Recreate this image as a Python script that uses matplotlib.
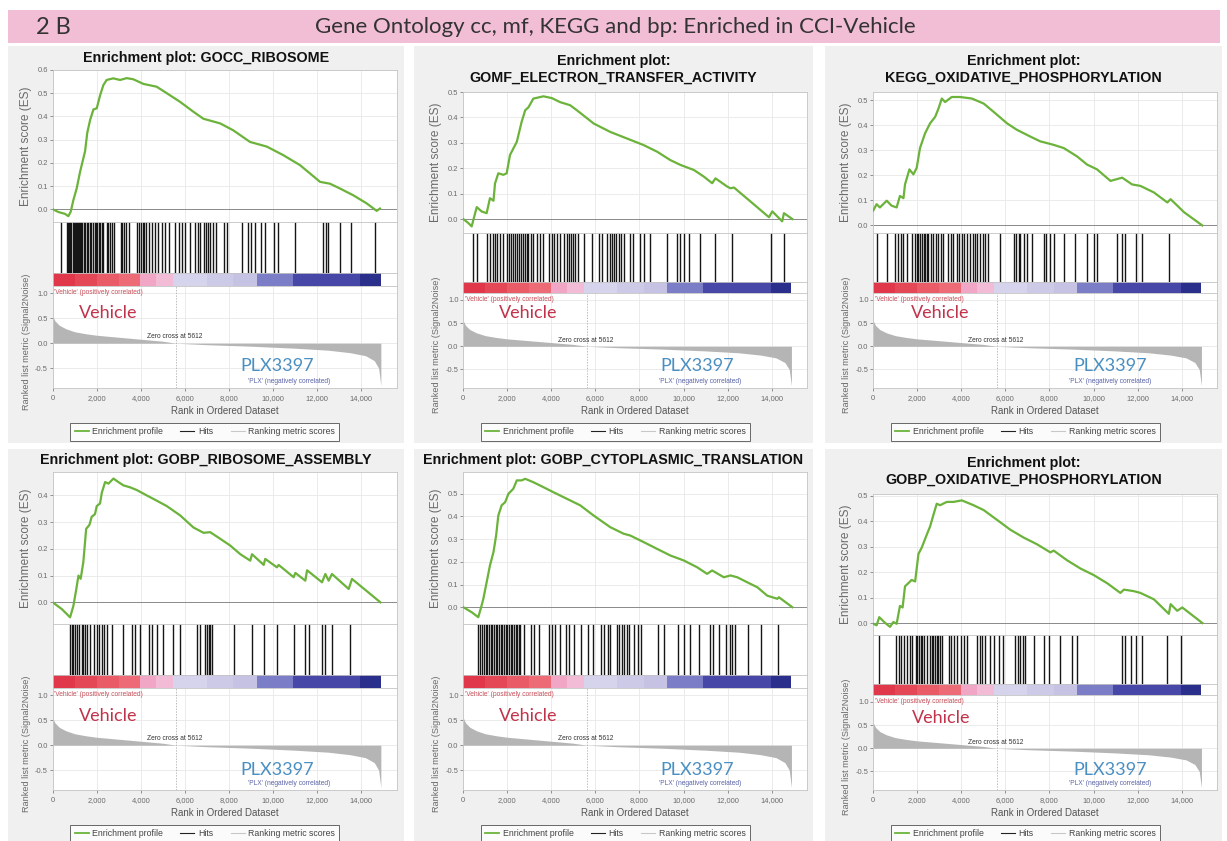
import numpy as np
import matplotlib
matplotlib.use("Agg")
import matplotlib.pyplot as plt
from matplotlib.patches import Rectangle
from matplotlib.lines import Line2D
from matplotlib.ticker import FuncFormatter, FormatStrFormatter

plt.rcParams["font.family"] = ["Liberation Sans", "DejaVu Sans"]

# ---- data ---------------------------------------------------------------
HEADER_TAG = "2 B"
HEADER_TITLE = "Gene Ontology cc, mf, KEGG and bp: Enriched in CCI-Vehicle"

TITLES = [
    "Enrichment plot: GOCC_RIBOSOME",
    "Enrichment plot:\nGOMF_ELECTRON_TRANSFER_ACTIVITY",
    "Enrichment plot:\nKEGG_OXIDATIVE_PHOSPHORYLATION",
    "Enrichment plot: GOBP_RIBOSOME_ASSEMBLY",
    "Enrichment plot: GOBP_CYTOPLASMIC_TRANSLATION",
    "Enrichment plot:\nGOBP_OXIDATIVE_PHOSPHORYLATION",
]

# running enrichment score (rank, ES)
ES_X_1 = [0, 260, 560, 710, 820, 940, 1090, 1240, 1470, 1570, 1700, 1850, 2000,
          2150, 2300, 2450, 2750, 3060, 3360, 3660, 4120, 4720, 5180, 5780,
          6390, 6840, 7600, 8200, 8960, 9720, 10470, 11230, 12140, 12590,
          13050, 13650, 14260, 14710, 14860]
ES_Y_1 = [0.0, -0.012, -0.02, -0.03, -0.01, 0.04, 0.09, 0.16, 0.25, 0.33, 0.385,
          0.43, 0.435, 0.49, 0.535, 0.557, 0.564, 0.557, 0.565, 0.56, 0.54,
          0.528, 0.50, 0.463, 0.42, 0.39, 0.37, 0.34, 0.29, 0.27, 0.233, 0.19,
          0.118, 0.11, 0.089, 0.06, 0.025, -0.007, 0.003]

ES_X_2 = [0, 230, 380, 610, 830, 1060, 1210, 1370, 1440, 1590, 1820, 1970, 2120,
          2430, 2650, 2810, 2960, 3180, 3640, 4020, 4400, 4850, 5160, 5920,
          6670, 7430, 8190, 8800, 9400, 9860, 10470, 10920, 11300, 11450,
          11980, 12130, 12290, 13040, 13880, 14030, 14480, 14560, 14940]
ES_Y_2 = [0.0, -0.016, -0.029, 0.047, 0.03, 0.023, 0.082, 0.072, 0.14, 0.18,
          0.174, 0.18, 0.252, 0.304, 0.383, 0.428, 0.44, 0.474, 0.483, 0.476,
          0.46, 0.448, 0.428, 0.376, 0.343, 0.317, 0.291, 0.265, 0.232, 0.213,
          0.193, 0.167, 0.141, 0.16, 0.128, 0.121, 0.124, 0.069, 0.007, 0.03,
          -0.009, 0.023, 0.0]

ES_X_3 = [0, 150, 300, 610, 830, 1060, 1210, 1370, 1440, 1640, 1820, 1970, 2120,
          2350, 2580, 2810, 2960, 3110, 3260, 3560, 3940, 4470, 5010, 5460,
          6070, 6520, 7130, 7580, 8190, 8650, 9250, 9710, 10160, 10770, 11300,
          11750, 12130, 12740, 13350, 13500, 14110, 14940]
ES_Y_3 = [0.06, 0.085, 0.072, 0.099, 0.079, 0.072, 0.118, 0.109, 0.164, 0.224,
          0.204, 0.23, 0.309, 0.368, 0.408, 0.434, 0.467, 0.507, 0.493, 0.513,
          0.513, 0.507, 0.487, 0.454, 0.408, 0.382, 0.355, 0.336, 0.322, 0.309,
          0.276, 0.243, 0.224, 0.178, 0.191, 0.164, 0.158, 0.132, 0.092, 0.105,
          0.053, 0.0]

ES_X_4 = [0, 410, 790, 940, 1060, 1170, 1270, 1390, 1520, 1670, 1770, 1920, 2000,
          2150, 2230, 2380, 2530, 2760, 2980, 3210, 3520, 3820, 4270, 4730,
          5180, 5790, 6390, 6850, 7150, 7610, 8060, 8520, 8970, 9050, 9580,
          9650, 10180, 10260, 10940, 11020, 11470, 11550, 12230, 12380, 12530,
          12680, 13440, 13590, 14880]
ES_Y_4 = [0.0, -0.025, -0.056, -0.013, 0.044, 0.1, 0.088, 0.15, 0.275, 0.29,
          0.32, 0.33, 0.36, 0.37, 0.41, 0.45, 0.444, 0.463, 0.45, 0.4375, 0.43,
          0.42, 0.4, 0.38, 0.36, 0.325, 0.28, 0.26, 0.2625, 0.2375, 0.2125,
          0.18, 0.156, 0.18, 0.14, 0.1625, 0.131, 0.14, 0.094, 0.11, 0.081,
          0.12, 0.075, 0.106, 0.081, 0.106, 0.05, 0.0875, 0.0]

ES_X_5 = [0, 380, 680, 830, 910, 1060, 1210, 1370, 1490, 1590, 1740, 1900, 2050,
          2270, 2430, 2650, 2810, 3180, 3640, 4090, 4700, 5310, 5920, 6670,
          7280, 7580, 8190, 8800, 9400, 10010, 10620, 11070, 11300, 11830,
          12130, 12440, 12890, 13350, 13800, 14260, 14330, 14940]
ES_Y_5 = [0.0, -0.022, -0.044, 0.007, 0.037, 0.11, 0.184, 0.243, 0.316, 0.404,
          0.449, 0.463, 0.5, 0.522, 0.559, 0.559, 0.566, 0.551, 0.529, 0.507,
          0.478, 0.449, 0.404, 0.353, 0.324, 0.316, 0.287, 0.257, 0.228, 0.206,
          0.176, 0.147, 0.162, 0.132, 0.14, 0.132, 0.11, 0.088, 0.051, 0.037,
          0.044, 0.0]

ES_X_6 = [0, 150, 270, 530, 760, 910, 1060, 1210, 1330, 1440, 1590, 1740, 1900,
          2050, 2200, 2430, 2580, 2730, 2880, 3030, 3340, 3640, 4020, 4550,
          5010, 5610, 6220, 6830, 7430, 8040, 8190, 8800, 9400, 10010, 10620,
          11220, 11380, 11830, 12130, 12740, 13420, 13500, 13800, 14030, 14940]
ES_Y_6 = [-0.003, -0.009, 0.023, 0.001, -0.015, 0.004, -0.003, 0.067, 0.061,
          0.144, 0.156, 0.169, 0.163, 0.271, 0.296, 0.347, 0.379, 0.424, 0.468,
          0.462, 0.475, 0.475, 0.481, 0.462, 0.443, 0.405, 0.366, 0.335, 0.309,
          0.277, 0.284, 0.246, 0.214, 0.188, 0.156, 0.118, 0.131, 0.125, 0.118,
          0.093, 0.036, 0.074, 0.048, 0.061, 0.0]

# gene-set member positions in the ranked list
HITS_1 = [360, 640, 700, 760, 800, 850, 900, 950, 1000, 1050, 1100, 1150, 1200,
          1260, 1300, 1350, 1420, 1480, 1550, 1620, 1700, 1760, 1850, 1900,
          1950, 2000, 2080, 2150, 2230, 2300, 2450, 2520, 2600, 2680, 2800,
          3080, 3150, 3250, 3330, 3450, 3850, 3920, 4000, 4080, 4150, 4250,
          4350, 4520, 4650, 4790, 4950, 5100, 5280, 5550, 5720, 5880, 6000,
          6240, 6460, 6600, 6700, 6850, 6950, 7050, 7150, 7300, 7420, 7760,
          7920, 8600, 8870, 9000, 9190, 9460, 9630, 10050, 10230, 10990, 12270,
          12400, 12520, 13030, 13540, 14640]
HITS_2 = [455, 607, 1060, 1210, 1335, 1440, 1550, 1670, 1790, 1970, 2060, 2150,
          2240, 2330, 2420, 2510, 2600, 2700, 2810, 2880, 2960, 3060, 3180,
          3340, 3490, 3640, 3870, 4020, 4125, 4250, 4400, 4550, 4700, 4780,
          4880, 4970, 5080, 5230, 5460, 5840, 6140, 6290, 6520, 6640, 6750,
          6860, 6950, 7050, 7160, 7280, 7580, 7700, 8040, 8190, 8490, 9250,
          9710, 9860, 10010, 10240, 10770, 11410, 12210, 13950, 14560]
HITS_3 = [180, 610, 990, 1140, 1240, 1370, 1550, 1740, 1900, 1980, 2050, 2120,
          2200, 2280, 2350, 2430, 2500, 2610, 2730, 2850, 2960, 3060, 3180,
          3410, 3520, 3640, 3790, 3910, 4020, 4130, 4250, 4400, 4520, 4630,
          4730, 4850, 4970, 5080, 5230, 5760, 6370, 6490, 6600, 6670, 6830,
          6980, 7200, 7740, 7860, 8040, 8190, 8650, 9180, 9710, 10010, 10160,
          11070, 11300, 11450, 11910, 12210, 13420]
HITS_4 = [790, 860, 940, 1010, 1090, 1210, 1320, 1390, 1470, 1580, 1700, 1880,
          2000, 2120, 2230, 2330, 2450, 2700, 3210, 3590, 3740, 3970, 4350,
          4500, 4730, 5030, 5480, 5790, 6550, 6700, 6920, 7000, 7080, 7150,
          7230, 8210, 9050, 9580, 10180, 10940, 11470, 11620, 12230, 12380,
          12680, 13520]
HITS_5 = [680, 760, 860, 940, 1010, 1090, 1170, 1240, 1320, 1390, 1470, 1540,
          1620, 1700, 1770, 1850, 1920, 2000, 2070, 2150, 2230, 2300, 2380,
          2450, 2530, 2580, 2760, 3060, 3210, 3440, 3900, 4050, 4160, 4400,
          4660, 4810, 5040, 5340, 5640, 5870, 6250, 6400, 6550, 6670, 6980,
          7080, 7190, 7310, 7430, 7540, 7770, 7920, 8070, 8830, 9130, 9740,
          10040, 10310, 10680, 11180, 11330, 11590, 11940, 12090, 12200, 12320,
          12930, 13530, 14290]
HITS_6 = [270, 1020, 1170, 1270, 1390, 1550, 1670, 1770, 1930, 2000, 2080, 2150,
          2230, 2300, 2460, 2580, 2660, 2730, 2810, 2880, 2960, 3030, 3140,
          3440, 3550, 3670, 3820, 3970, 4120, 4270, 4700, 4830, 4950, 5080,
          5310, 5460, 5690, 5890, 6450, 6560, 6670, 6790, 6900, 7280, 7740,
          7960, 8500, 9030, 9250, 11300, 11450, 11680, 11910, 12210, 13350,
          13950]

# ranked list metric (Signal2Noise), shared by all six plots
METRIC_RANK = [0, 100, 300, 600, 1000, 1500, 2000, 3000, 4000, 5000, 5612, 7000,
               9000, 11000, 12500, 13500, 14200, 14600, 14800, 14900]
METRIC_VAL = [0.55, 0.45, 0.36, 0.29, 0.23, 0.19, 0.16, 0.12, 0.08, 0.04, 0.0,
              -0.03, -0.06, -0.10, -0.14, -0.19, -0.25, -0.35, -0.5, -0.85]
ZERO_CROSS = 5612

# phenotype colour bar
BAR_EDGES = [0, 1000, 2000, 3000, 3970, 4700, 5480, 7000, 8200, 9260, 10900,
             13950, 14900]
BAR_COLORS = ["#e0384a", "#e44856", "#e95b67", "#ed6b76", "#f0a6c4", "#f2bcd6",
              "#d6d3ec", "#cdcae8", "#c6c2e4", "#7b7ec6", "#4747a8", "#2b2f8c"]

ES_TOPS = [0.6, 0.5, 0.5, 0.4, 0.5, 0.5]
ES_YLIMS = [(-0.055, 0.6), (-0.055, 0.5), (-0.03, 0.533),
            (-0.081, 0.4875), (-0.074, 0.596), (-0.047, 0.506)]

ES_X = [ES_X_1, ES_X_2, ES_X_3, ES_X_4, ES_X_5, ES_X_6]
ES_Y = [ES_Y_1, ES_Y_2, ES_Y_3, ES_Y_4, ES_Y_5, ES_Y_6]
HITS = [HITS_1, HITS_2, HITS_3, HITS_4, HITS_5, HITS_6]

# ---- layout (pixels) ------------------------------------------------------
W, H = 1227, 841
PANEL_X = [(8, 404), (414, 813), (825, 1222)]
PANEL_Y = [(46, 443), (449, 845)]
ROW_TOP = [48, 450]
AX_LEFT = [52.7, 463.3, 873.3]
AX_W = 344
BANDS_ONE = dict(es=(22, 174), hits=(174, 225), bar=(225, 238), metric=(238, 340))
BANDS_TWO = dict(es=(44, 185), hits=(185, 234), bar=(234, 245), metric=(245, 340))
VEH_POS = [(2530, 0.61), (2930, 0.71), (3030, 0.71), (2530, 0.59), (2940, 0.59), (3060, 0.65)]
PLX_POS = [(10200, -0.45), (10620, -0.43), (10770, -0.43), (10180, -0.49), (10620, -0.49), (10770, -0.47)]
XMAX = 15620

GREEN = "#6bb33a"
FRAME = "#c4c4c4"
GRID = "#e8e8e8"
TICKC = "#6a6a6a"


def fig_rect(x0, y0, x1, y1):
    return [x0 / W, 1 - y1 / H, (x1 - x0) / W, (y1 - y0) / H]


def frame(ax):
    for s in ax.spines.values():
        s.set_color(FRAME)
        s.set_linewidth(0.6)


def draw_panel(fig, i):
    row, col = divmod(i, 3)
    top = ROW_TOP[row]
    left = AX_LEFT[col]
    two_line = "\n" in TITLES[i]
    bands = BANDS_TWO if two_line else BANDS_ONE
    xticks = np.arange(0, 14001, 2000)

    px0, px1 = PANEL_X[col]
    py0, py1 = PANEL_Y[row]
    fig.add_artist(Rectangle((px0 / W, 1 - py1 / H), (px1 - px0) / W, (py1 - py0) / H,
                             transform=fig.transFigure, facecolor="#f0f0f0",
                             edgecolor="none", zorder=0))
    ty = top + (21 if two_line else 10)
    fig.text((px0 + px1) / 2 / W, 1 - ty / H, TITLES[i], ha="center", va="center",
             fontsize=10.3, fontweight="bold", linespacing=1.25, color="#111111")

    # enrichment score
    e0, e1 = bands["es"]
    ax = fig.add_axes(fig_rect(left, top + e0, left + AX_W, top + e1))
    frame(ax)
    ax.plot(ES_X[i], ES_Y[i], color=GREEN, lw=1.6, zorder=3)
    ax.axhline(0, color="#8a8a8a", lw=0.7, zorder=2)
    ax.set_xlim(0, XMAX)
    ax.set_ylim(*ES_YLIMS[i])
    ax.set_xticks(xticks)
    ax.set_yticks(np.arange(0, ES_TOPS[i] + 0.001, 0.1))
    ax.yaxis.set_major_formatter(FormatStrFormatter("%.1f"))
    ax.tick_params(axis="x", length=0, labelbottom=False)
    ax.tick_params(axis="y", length=2, width=0.5, colors=TICKC, labelsize=5.4, pad=1.5)
    ax.grid(color=GRID, lw=0.6)
    ax.set_axisbelow(True)
    ax.set_ylabel("Enrichment score (ES)", fontsize=8.6, color=TICKC)
    ax.yaxis.set_label_coords(-21 / AX_W, 0.5)

    # hits
    h0, h1 = bands["hits"]
    axh = fig.add_axes(fig_rect(left, top + h0, left + AX_W, top + h1))
    frame(axh)
    axh.vlines(HITS[i], 0, 1, color="#151515", lw=1.0)
    axh.set_xlim(0, XMAX)
    axh.set_ylim(0, 1)
    axh.set_xticks(xticks)
    axh.set_yticks([])
    axh.tick_params(axis="x", length=0, labelbottom=False)
    axh.grid(axis="x", color=GRID, lw=0.6)
    axh.set_axisbelow(True)

    # phenotype colour bar
    b0, b1 = bands["bar"]
    axb = fig.add_axes(fig_rect(left, top + b0, left + AX_W, top + b1))
    frame(axb)
    axb.bar(BAR_EDGES[:-1], np.diff(BAR_EDGES), width=np.diff(BAR_EDGES),
            bottom=0, align="edge", color=BAR_COLORS, lw=0)
    axb.set_xlim(0, XMAX)
    axb.set_ylim(0, 1)
    axb.set_xticks([])
    axb.set_yticks([])

    # ranked list metric
    m0, m1 = bands["metric"]
    axm = fig.add_axes(fig_rect(left, top + m0, left + AX_W, top + m1))
    frame(axm)
    axm.fill_between(METRIC_RANK, METRIC_VAL, 0, color="#b5b5b5", lw=0, zorder=2)
    axm.axvline(ZERO_CROSS, color="#a0a0a0", lw=0.5, ls=(0, (2, 2)), zorder=1)
    axm.set_xlim(0, XMAX)
    axm.set_ylim(-0.9, 1.15)
    axm.set_xticks(xticks)
    axm.xaxis.set_major_formatter(FuncFormatter(lambda v, _: f"{int(v):,}"))
    axm.set_yticks([-0.5, 0.0, 0.5, 1.0])
    axm.yaxis.set_major_formatter(FormatStrFormatter("%.1f"))
    axm.tick_params(length=2, width=0.5, colors=TICKC, labelsize=5.4, pad=1.5)
    axm.tick_params(axis="x", pad=3)
    axm.grid(color=GRID, lw=0.6)
    axm.set_axisbelow(True)
    axm.set_ylabel("Ranked list metric (Signal2Noise)", fontsize=6.6, color=TICKC)
    axm.yaxis.set_label_coords(-22 / AX_W, 0.45)
    axm.set_xlabel("Rank in Ordered Dataset", fontsize=7.0, color="#555555", labelpad=3)

    axm.text(60, 1.02, "'Vehicle' (positively correlated)", fontsize=4.8,
             color="#c8505a", ha="left", va="center")
    axm.text(12600, -0.77, "'PLX' (negatively correlated)", fontsize=4.8,
             color="#5a64a8", ha="right", va="center")
    axm.text(ZERO_CROSS - 60, 0.13, "Zero cross at 5612", fontsize=4.8,
             color="#333333", ha="center", va="center", zorder=4)
    vx, vy = VEH_POS[i]
    axm.text(vx, vy, "Vehicle", fontsize=13, family="Lato", color="#c1334a",
             ha="center", va="center", zorder=4)
    px, py = PLX_POS[i]
    axm.text(px, py, "PLX3397", fontsize=13, family="Lato", color="#4a8fc2",
             ha="center", va="center", zorder=4)

    handles = [Line2D([], [], color=GREEN, lw=1.3),
               Line2D([], [], color="#222222", lw=0.8),
               Line2D([], [], color="#c8c8c8", lw=0.8)]
    leg = axm.legend(handles, ["Enrichment profile", "Hits", "Ranking metric scores"],
                     loc="upper left", bbox_to_anchor=((left + 17.5) / W, 1 - (top + 375) / H),
                     bbox_transform=fig.transFigure, ncol=3, fontsize=6.3,
                     frameon=True, fancybox=False, borderaxespad=0, borderpad=0.5,
                     handlelength=1.6, handletextpad=0.4, columnspacing=2.0)
    leg.get_frame().set_edgecolor("#444444")
    leg.get_frame().set_linewidth(0.7)
    for t in leg.get_texts():
        t.set_color("#444444")


fig = plt.figure(figsize=(W / 100, H / 100), dpi=100)
fig.patch.set_facecolor("white")

# header band
fig.add_artist(Rectangle((8 / W, 1 - 43 / H), (1220 - 8) / W, 33 / H,
                         transform=fig.transFigure, facecolor="#f2bed6",
                         edgecolor="none", zorder=0))
fig.text(36 / W, 1 - 27 / H, HEADER_TAG, fontsize=17, family="Lato",
         color="#333333", ha="left", va="center")
fig.text(615 / W, 1 - 27 / H, HEADER_TITLE, fontsize=16, family="Lato",
         color="#333333", ha="center", va="center")

for k in range(6):
    draw_panel(fig, k)

fig.savefig("out.png", dpi=100)
